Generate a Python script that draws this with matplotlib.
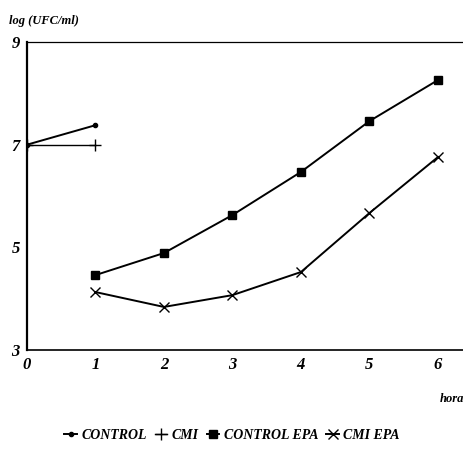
import matplotlib
matplotlib.use("Agg")
import matplotlib.pyplot as plt

# ----- Données -----
horas_control = [0, 1]
control = [7.0, 7.38]
cmi = [7.0, 7.0]

horas_epa = [1, 2, 3, 4, 5, 6]
control_epa = [4.46, 4.89, 5.63, 6.47, 7.46, 8.26]
cmi_epa = [4.13, 3.84, 4.07, 4.52, 5.67, 6.76]

yticks = [3, 5, 7, 9]
xticks = [0, 1, 2, 3, 4, 5, 6]

plt.rcParams["font.family"] = ["Liberation Serif", "DejaVu Serif"]
FONT = dict(style="italic", weight="bold")

fig = plt.figure(figsize=(4.64, 4.57), dpi=100)
ax = fig.add_axes([0.058, 0.234, 0.942, 0.674])

ax.plot(horas_control, control, color="black", lw=1.4, marker="o", ms=3,
        label="CONTROL")
ax.plot(horas_control, cmi, color="black", lw=1.0, marker="+", ms=9,
        mew=1.0, label="CMI")
ax.plot(horas_epa, control_epa, color="black", lw=1.4, marker="s", ms=5.5,
        label="CONTROL EPA")
ax.plot(horas_epa, cmi_epa, color="black", lw=1.4, marker="x", ms=7,
        mew=1.0, label="CMI EPA")

ax.set_xlim(0, 6.38)
ax.set_ylim(3, 9)
ax.set_xticks(xticks)
ax.set_yticks(yticks)
ax.set_xticklabels([str(v) for v in xticks], fontsize=12, **FONT)
ax.set_yticklabels([str(v) for v in yticks], fontsize=12, **FONT)
ax.tick_params(length=0, pad=5)
ax.spines["right"].set_visible(False)
ax.spines["top"].set_linewidth(0.9)
ax.spines["left"].set_linewidth(1.6)
ax.spines["bottom"].set_linewidth(1.2)

fig.text(0.02, 0.955, "log (UFC/ml)", fontsize=9, ha="left", va="center", **FONT)
fig.text(1.0, 0.128, "hora", fontsize=9, ha="right", va="center", **FONT)

leg = fig.legend(loc="center", bbox_to_anchor=(0.5, 0.048), ncol=4,
                 frameon=False, handlelength=0.9, handletextpad=0.3,
                 columnspacing=0.6, prop=dict(family="Liberation Serif",
                                              style="italic", weight="bold",
                                              size=10))

fig.savefig("out.png", dpi=100)
